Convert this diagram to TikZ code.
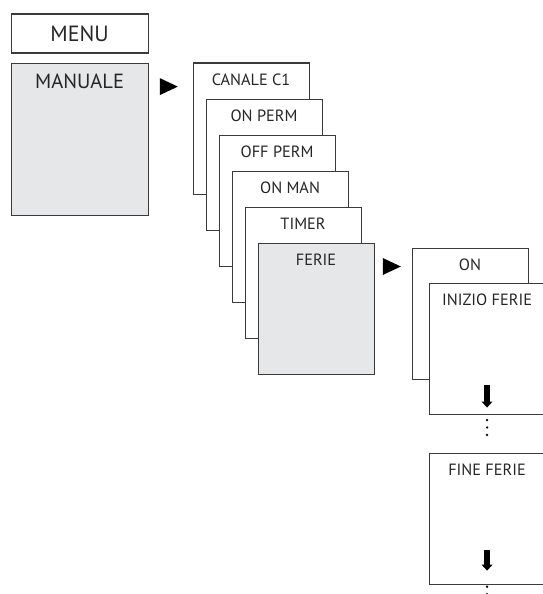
\documentclass[tikz,border=0pt]{standalone}
\usepackage{fontspec}
\setmainfont{PT Sans}
\usetikzlibrary{arrows.meta,positioning,shapes.geometric}
\definecolor{framegray}{HTML}{3A3A3A}
\definecolor{menugray}{HTML}{E6E7E8}
\tikzset{
    menubox/.style={rectangle,draw=framegray,line width=1.1pt,fill=white,minimum width=137pt,minimum height=39pt,inner sep=0pt,text=black!85,font=\fontsize{22}{26}\selectfont},
    mainbox/.style={menubox,fill=menugray,minimum height=152pt},
    screenbox/.style={rectangle,draw=framegray,line width=1.1pt,fill=white,minimum width=116pt,minimum height=131pt,inner sep=0pt,anchor=north west},
    activebox/.style={screenbox,fill=menugray},
    bigtext/.style={anchor=north,inner sep=0pt,yshift=-11pt,text=black!85,font=\fontsize{20.5}{24}\selectfont},
    smalltext/.style={anchor=north,inner sep=0pt,yshift=-11pt,text=black!85,font=\fontsize{16.3}{19}\selectfont},
    pointer/.style={isosceles triangle,isosceles triangle stretches,fill=black,inner sep=0pt,minimum width=17pt,minimum height=18pt},
    downarrow/.style={-{Triangle[length=6pt,width=10.5pt]},line width=5.8pt,draw=black},
    ellipsis/.style={line width=2.6pt,line cap=round,dash pattern=on 0pt off 7.4pt}
}
\begin{document}
\begin{tikzpicture}[x=1pt,y=-1pt]
    \useasboundingbox (0,0) rectangle (543,594);
    \clip (0,0) rectangle (543,594);
    \node[menubox,anchor=north west] (menu) at (10.5,13.5) {MENU};
    \node[mainbox,below=9pt of menu,label={[bigtext]north:MANUALE}] (manuale) {};
    \node[pointer,right=11pt of manuale.north east,yshift=-24pt] (pt1) {};
    \node[screenbox,label={[smalltext]north:CANALE C1}] (canale) at (192.5,62.5) {};
    \node[screenbox,below right=36pt and 13pt of canale.north west,label={[smalltext]north:ON PERM}] (onperm) {};
    \node[screenbox,below right=36pt and 13pt of onperm.north west,label={[smalltext]north:OFF PERM}] (offperm) {};
    \node[screenbox,below right=36pt and 13pt of offperm.north west,label={[smalltext]north:ON MAN}] (onman) {};
    \node[screenbox,below right=36pt and 13pt of onman.north west,label={[smalltext]north:TIMER}] (timer) {};
    \node[activebox,below right=36pt and 13pt of timer.north west,label={[smalltext]north:FERIE}] (ferie) {};
    \node[pointer,right=8pt of ferie.north east,yshift=-24pt] (pt2) {};
    \node[screenbox,label={[smalltext]north:ON}] (on) at (411.5,247.5) {};
    \node[screenbox,below right=35pt and 17pt of on.north west,label={[smalltext]north:INIZIO FERIE}] (inizio) {};
    \node[screenbox,below=38pt of inizio,label={[smalltext]north:FINE FERIE}] (fine) {};
    \draw[downarrow] ([yshift=30pt]inizio.south) -- ([yshift=7pt]inizio.south);
    \draw[ellipsis] ([yshift=-5.5pt]inizio.south) -- ([yshift=-21pt]inizio.south);
    \draw[downarrow] ([yshift=35pt]fine.south) -- ([yshift=14pt]fine.south);
    \draw[ellipsis] ([yshift=-2pt]fine.south) -- ([yshift=-20pt]fine.south);
\end{tikzpicture}
\end{document}
